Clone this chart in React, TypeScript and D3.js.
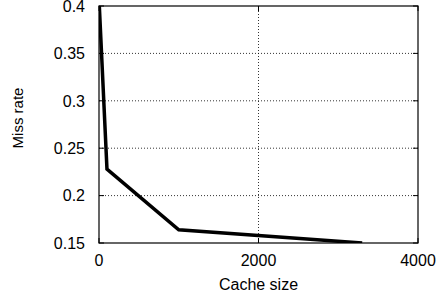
import * as d3 from "d3";
import { useEffect, useRef } from "react";

const cacheSize = [4, 100, 1000, 3300];
const missRate = [0.4, 0.228, 0.164, 0.15];
const xTicks = [0, 2000, 4000];
const yTicks = [0.15, 0.2, 0.25, 0.3, 0.35, 0.4];

export default function App() {
  const svgRef = useRef<SVGSVGElement | null>(null);

  useEffect(() => {
    if (!svgRef.current) return;
    const width = 440;
    const height = 302;
    const margin = { top: 6, right: 22, bottom: 59, left: 99 };
    const svg = d3.select(svgRef.current);
    svg.selectAll("*").remove();
    svg.attr("width", width).attr("height", height);

    const x = d3.scaleLinear().domain([0, 4000]).range([margin.left, width - margin.right]);
    const y = d3.scaleLinear().domain([0.15, 0.4]).range([height - margin.bottom, margin.top]);
    const font = "Liberation Sans, Arial, Helvetica, sans-serif";

    svg
      .append("defs")
      .append("clipPath")
      .attr("id", "plot-clip")
      .append("rect")
      .attr("x", margin.left)
      .attr("y", margin.top)
      .attr("width", x(4000) - x(0))
      .attr("height", y(0.15) - y(0.4));

    // grid
    svg
      .append("g")
      .selectAll("line")
      .data(yTicks.slice(1, -1))
      .join("line")
      .attr("x1", x(0))
      .attr("x2", x(4000))
      .attr("y1", (d) => y(d))
      .attr("y2", (d) => y(d))
      .attr("stroke", "#000")
      .attr("stroke-width", 0.8)
      .attr("stroke-dasharray", "1,2");
    svg
      .append("g")
      .selectAll("line")
      .data(xTicks.slice(1, -1))
      .join("line")
      .attr("x1", (d) => x(d))
      .attr("x2", (d) => x(d))
      .attr("y1", y(0.15))
      .attr("y2", y(0.4))
      .attr("stroke", "#000")
      .attr("stroke-width", 0.8)
      .attr("stroke-dasharray", "1,2");

    // inward ticks
    const tk = svg.append("g").attr("stroke", "#000").attr("stroke-width", 1);
    yTicks.forEach((t) => {
      tk.append("line").attr("x1", x(0)).attr("x2", x(0) + 5).attr("y1", y(t)).attr("y2", y(t));
      tk.append("line").attr("x1", x(4000)).attr("x2", x(4000) - 5).attr("y1", y(t)).attr("y2", y(t));
    });
    xTicks.forEach((t) => {
      tk.append("line").attr("x1", x(t)).attr("x2", x(t)).attr("y1", y(0.15)).attr("y2", y(0.15) - 5);
      tk.append("line").attr("x1", x(t)).attr("x2", x(t)).attr("y1", y(0.4)).attr("y2", y(0.4) + 5);
    });

    // data line
    const pts = cacheSize.map((c, i) => [c, missRate[i]] as [number, number]);
    const line = d3
      .line<[number, number]>()
      .x((d) => x(d[0]))
      .y((d) => y(d[1]));
    svg
      .append("path")
      .datum(pts)
      .attr("clip-path", "url(#plot-clip)")
      .attr("fill", "none")
      .attr("stroke", "#000")
      .attr("stroke-width", 3.5)
      .attr("stroke-linejoin", "miter")
      .attr("d", line);

    // frame
    svg
      .append("rect")
      .attr("x", x(0))
      .attr("y", y(0.4))
      .attr("width", x(4000) - x(0))
      .attr("height", y(0.15) - y(0.4))
      .attr("fill", "none")
      .attr("stroke", "#000")
      .attr("stroke-width", 1.2);

    // tick labels
    svg
      .append("g")
      .selectAll("text")
      .data(yTicks)
      .join("text")
      .attr("x", x(0) - 14)
      .attr("y", (d) => y(d))
      .attr("dy", "0.36em")
      .attr("text-anchor", "end")
      .attr("font-family", font)
      .attr("font-size", 16)
      .text((d) => d3.format("")(d));
    svg
      .append("g")
      .selectAll("text")
      .data(xTicks)
      .join("text")
      .attr("x", (d) => x(d))
      .attr("y", 266)
      .attr("text-anchor", "middle")
      .attr("font-family", font)
      .attr("font-size", 16)
      .text((d) => String(d));

    // axis titles
    svg
      .append("text")
      .attr("x", x(2000))
      .attr("y", 290)
      .attr("text-anchor", "middle")
      .attr("font-family", font)
      .attr("font-size", 16)
      .text("Cache size");
    svg
      .append("text")
      .attr("transform", `translate(23,118) rotate(-90)`)
      .attr("text-anchor", "middle")
      .attr("font-family", font)
      .attr("font-size", 15)
      .text("Miss rate");
  }, []);

  return (
    <svg
      ref={svgRef}
      style={{ position: "absolute", left: 0, top: 0, background: "#fff" }}
    />
  );
}
